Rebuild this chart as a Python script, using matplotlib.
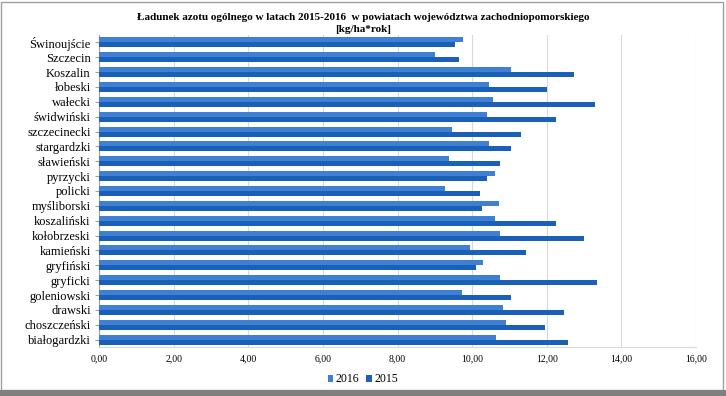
import numpy as np
import matplotlib
matplotlib.use("Agg")
import matplotlib.pyplot as plt
from matplotlib.patches import Rectangle

powiaty = ['Świnoujście', 'Szczecin', 'Koszalin', 'łobeski', 'wałecki',
           'świdwiński', 'szczecinecki', 'stargardzki', 'sławieński',
           'pyrzycki', 'policki', 'myśliborski', 'koszaliński',
           'kołobrzeski', 'kamieński', 'gryfiński', 'gryficki',
           'goleniowski', 'drawski', 'choszczeński', 'białogardzki']
lata_2016 = [9.76, 9.00, 11.05, 10.46, 10.57, 10.41, 9.45, 10.45, 9.37,
             10.62, 9.28, 10.72, 10.62, 10.74, 9.95, 10.29, 10.74, 9.73,
             10.84, 10.92, 10.63]
lata_2015 = [9.55, 9.64, 12.72, 12.00, 13.28, 12.25, 11.32, 11.05, 10.74,
             10.40, 10.20, 10.26, 12.25, 13.01, 11.45, 10.11, 13.34, 11.04,
             12.47, 11.94, 12.56]
x_ticks = np.arange(0, 17, 2)

plt.rcParams['font.family'] = ['Liberation Serif', 'DejaVu Serif']

fig = plt.figure(figsize=(7.26, 3.96), dpi=100)
ax = fig.add_axes([0.1364, 0.1237, 0.8223, 0.788])

y = np.arange(len(powiaty))
h = 0.34
ax.barh(y - h / 2, lata_2016, height=h, color='#3F7FD4', label='2016', zorder=3)
ax.barh(y + h / 2, lata_2015, height=h, color='#1A60B8', label='2015', zorder=3)

ax.set_ylim(len(powiaty) - 0.5, -0.5)
ax.set_xlim(0, 16)
ax.set_yticks(y)
ax.set_yticklabels(powiaty, fontsize=9)
ax.set_xticks(x_ticks)
ax.set_xticklabels([('%.2f' % v).replace('.', ',') for v in x_ticks], fontsize=7)
ax.tick_params(axis='x', length=0, pad=5)
ax.tick_params(axis='y', length=3, color='#A0A0A0', pad=3)
ax.grid(axis='x', color='#D9D9D9', linewidth=0.8, zorder=0)

for s in ['top', 'right']:
    ax.spines[s].set_visible(False)
ax.spines['left'].set_color('#A0A0A0')
ax.spines['bottom'].set_color('#D9D9D9')

fig.suptitle('Ładunek azotu ogólnego w latach 2015-2016  w powiatach województwa zachodniopomorskiego\n[kg/ha*rok]',
             x=0.5, y=0.968, fontsize=8, fontweight='bold', linespacing=1.5)

fig.legend(loc='lower center', bbox_to_anchor=(0.5, 0.0), ncol=2, frameon=False,
           fontsize=8.5, handlelength=0.5, handleheight=0.5, handletextpad=0.2,
           columnspacing=0.6)

# ramka wykresu
fig.patches.append(Rectangle((0.002, 0.015), 0.994, 0.98, transform=fig.transFigure,
                             fill=False, edgecolor='#A0A0A0', linewidth=1))
fig.patches.append(Rectangle((0, 0), 1, 0.015, transform=fig.transFigure,
                             facecolor='#7F7F7F', edgecolor='none'))

fig.savefig('out.png', dpi=100)
